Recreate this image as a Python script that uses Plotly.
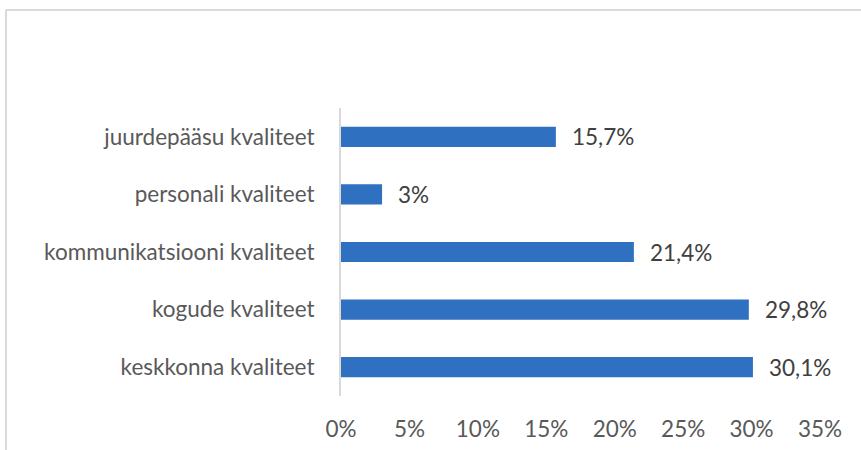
import plotly.graph_objects as go

categories = [
    "keskkonna kvaliteet",
    "kogude kvaliteet",
    "kommunikatsiooni kvaliteet",
    "personali kvaliteet",
    "juurdepääsu kvaliteet",
]
values = [30.1, 29.8, 21.4, 3.0, 15.7]
value_labels = ["30,1%", "29,8%", "21,4%", "3%", "15,7%"]
tick_values = [0, 5, 10, 15, 20, 25, 30, 35]
tick_labels = ["0%", "5%", "10%", "15%", "20%", "25%", "30%", "35%"]

BAR = "#3070c1"
FONT = "Lato, 'Open Sans', sans-serif"
FS = 22.5

fig = go.Figure(go.Bar(
    x=values,
    y=categories,
    orientation="h",
    marker=dict(color=BAR, line=dict(width=0)),
    width=0.35,
    hoverinfo="skip",
))

for v, lab, cat in zip(values, value_labels, categories):
    fig.add_annotation(x=v, y=cat, text=lab, showarrow=False,
                       xanchor="left", xshift=14,
                       font=dict(size=FS, color="#404040", family=FONT))

# chart frame (only left and top edges visible in the crop)
W, H = 861, 450
L, R, T, B = 341, 41, 108, 54
pw, ph = W - L - R, H - T - B
fx0 = (6 - L) / pw
fy1 = (H - B - 10) / ph
fig.add_shape(type="line", xref="paper", yref="paper", x0=fx0, x1=fx0,
              y0=(H - B - 460) / ph, y1=fy1, line=dict(color="#d9d9d9", width=2))
fig.add_shape(type="line", xref="paper", yref="paper", x0=fx0, x1=(880 - L) / pw,
              y0=fy1, y1=fy1, line=dict(color="#d9d9d9", width=2))

fig.update_layout(
    width=W, height=H,
    margin=dict(l=L, r=R, t=T, b=B),
    paper_bgcolor="white",
    plot_bgcolor="white",
    showlegend=False,
    font=dict(family=FONT, size=FS, color="#595959"),
)
fig.update_xaxes(
    range=[0, 35], tickvals=tick_values, ticktext=tick_labels,
    showgrid=False, zeroline=False, showline=False, automargin=False,
    ticks="outside", ticklen=13, tickcolor="rgba(0,0,0,0)",
    tickfont=dict(size=FS, color="#595959"),
)
fig.update_yaxes(
    showgrid=False, zeroline=False, automargin=False,
    showline=True, linecolor="#d9d9d9", linewidth=2,
    ticks="outside", ticklen=20, tickcolor="rgba(0,0,0,0)",
    tickfont=dict(size=FS, color="#595959"),
)

fig.write_html("out.html", config={"displayModeBar": False},
               post_script="document.body.style.margin='0';")
